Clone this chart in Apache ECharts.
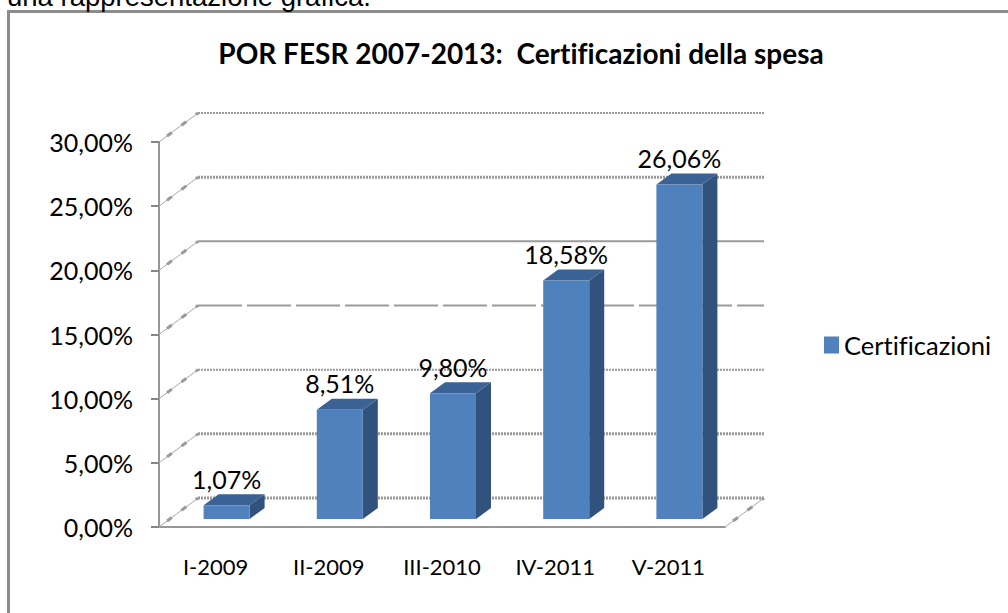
<!DOCTYPE html>
<html>
<head>
<meta charset="utf-8">
<title>POR FESR 2007-2013</title>
<script src="https://cdn.jsdelivr.net/npm/echarts@6/dist/echarts.min.js"></script>
<style>
  html, body { margin: 0; padding: 0; background: #fff; }
  #main { width: 1008px; height: 613px; }
  /* niente legature fi / ti nel testo */
  #main svg text { font-variant-ligatures: none; }
</style>
</head>
<body>
<div id="main"></div>
<script>
const categories = ['I-2009', 'II-2009', 'III-2010', 'IV-2011', 'V-2011'];
const values = [1.07, 8.51, 9.80, 18.58, 26.06];
const valueLabels = ['1,07%', '8,51%', '9,80%', '18,58%', '26,06%'];
const gridTicks = [0, 5, 10, 15, 20, 25, 30];
const seriesName = 'Certificazioni';

// profondita' della finta vista 3D, in pixel
const WALL_DX = 39, WALL_DY = -29;
const BAR_DX = 11, BAR_DY = -8;
const BAR_W = 46, SIDE_DX = 15, SIDE_DY = -11;
const FONT = 'Lato, "Open Sans", sans-serif';

// stile delle linee di griglia, dal basso verso l'alto
const lineDash = [[2, 1], [2, 1], [2, 1], [44, 5], 'solid', [2, 1], [2, 1]];
const lineWidth = [3, 3, 2, 2, 2, 3, 2];

function depthLine(x, y) {
  const shape = { x1: x, y1: y, x2: x + WALL_DX, y2: y + WALL_DY };
  return [
    { type: 'line', shape, style: { stroke: '#a6a6a6', lineWidth: 1 } },
    { type: 'line', shape, style: { stroke: '#9a9a9a', lineWidth: 3, lineDash: [6, 12], lineDashOffset: -10 } }
  ];
}

function renderWall(params, api) {
  const v = api.value(1);
  const half = api.size([1, 0])[0] / 2;
  const p0 = api.coord([0, v]);
  const left = p0[0] - half;
  const right = api.coord([categories.length - 1, v])[0] + half;
  const y = p0[1];
  const style = { stroke: '#9a9a9a', fill: 'none', lineWidth: lineWidth[params.dataIndex], lineDash: lineDash[params.dataIndex] };
  let children = depthLine(left, y);
  children.push({ type: 'line', shape: { x1: left + WALL_DX, y1: y + WALL_DY, x2: right + WALL_DX, y2: y + WALL_DY }, style });
  if (v === 0) {
    children = children.concat(depthLine(right, y));
  }
  return { type: 'group', children };
}

function renderBar(params, api) {
  const i = api.value(0);
  const top = api.coord([i, api.value(1)]);
  const base = api.coord([i, 0]);
  const x = top[0] + BAR_DX - BAR_W / 2;
  const yTop = top[1] + BAR_DY;
  const yBase = base[1] + BAR_DY;
  const r = x + BAR_W;
  return {
    type: 'group',
    children: [
      { type: 'polygon', shape: { points: [[r, yTop], [r + SIDE_DX, yTop + SIDE_DY], [r + SIDE_DX, yBase + SIDE_DY], [r, yBase]] }, style: { fill: '#30527c' } },
      { type: 'polygon', shape: { points: [[x, yTop], [x + SIDE_DX, yTop + SIDE_DY], [r + SIDE_DX, yTop + SIDE_DY], [r, yTop]] }, style: { fill: '#3a6294' } },
      { type: 'rect', shape: { x: x, y: yTop, width: BAR_W, height: yBase - yTop }, style: { fill: '#4f81bd' } },
      { type: 'text', x: x + BAR_W / 2, y: yTop + SIDE_DY - 3, style: { text: valueLabels[params.dataIndex], fill: '#000', font: '25px ' + FONT, align: 'center', verticalAlign: 'bottom' } }
    ]
  };
}

const chart = echarts.init(document.getElementById('main'), null, { renderer: 'svg' });
chart.setOption({
  animation: false,
  backgroundColor: '#fff',
  title: {
    text: 'POR FESR 2007-2013:  Certificazioni della spesa',
    left: 516, top: 34, textAlign: 'center',
    textStyle: { fontFamily: FONT, fontWeight: 'bold', fontSize: 28, color: '#000' }
  },
  legend: {
    data: [seriesName],
    left: 824, top: 332, padding: 0,
    icon: 'rect', itemWidth: 15, itemHeight: 17, itemGap: 0,
    textStyle: { fontFamily: FONT, fontSize: 25.5, color: '#000' }
  },
  grid: { left: 159, right: 283, top: 142, bottom: 86 },
  xAxis: {
    type: 'category',
    data: categories,
    axisLine: { lineStyle: { color: '#969696', width: 2, type: [2, 1] } },
    axisTick: { length: 7, alignWithLabel: false, lineStyle: { color: '#868686', width: 2 } },
    axisLabel: { color: '#000', fontFamily: FONT, fontSize: 22, margin: 28 }
  },
  yAxis: {
    type: 'value',
    min: 0, max: 30, interval: 5,
    axisLine: { show: true, lineStyle: { color: '#969696', width: 2 } },
    axisTick: { show: true, length: 8, lineStyle: { color: '#868686', width: 2 } },
    splitLine: { show: false },
    axisLabel: { color: '#000', fontFamily: FONT, fontSize: 25, margin: 26, formatter: v => v.toFixed(2).replace('.', ',') + '%' }
  },
  series: [
    {
      name: 'griglia', type: 'custom', z: 1, silent: true, clip: false,
      renderItem: renderWall,
      data: gridTicks.map(t => [0, t])
    },
    {
      name: seriesName, type: 'custom', z: 3, clip: false,
      itemStyle: { color: '#4f81bd' },
      renderItem: renderBar,
      encode: { x: 0, y: 1 },
      data: categories.map((c, i) => [i, values[i]])
    }
  ],
  graphic: [
    { type: 'text', x: 7, y: 10, z: 10, style: { text: 'una rappresentazione grafica.', fill: '#000', font: '27.5px "Liberation Sans", Arial, sans-serif', verticalAlign: 'bottom' } },
    { type: 'rect', z: 0, shape: { x: 8.5, y: 11.5, width: 1100, height: 800 }, style: { fill: 'none', stroke: '#8c8c8c', lineWidth: 3 } }
  ]
});
</script>
</body>
</html>
